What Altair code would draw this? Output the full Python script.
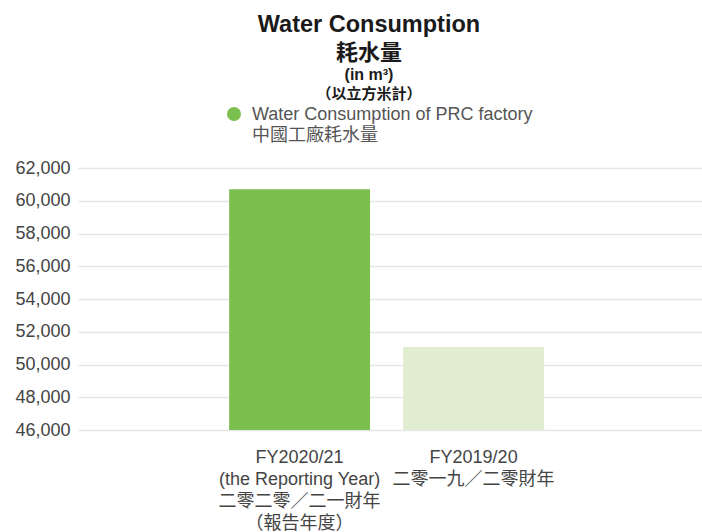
import altair as alt
import pandas as pd

# ---- data ----
categories = [
    "FY2020/21|(the Reporting Year)|二零二零／二一財年|（報告年度）",
    "FY2019/20|二零一九／二零財年",
]
values = [60700, 51070]
bar_colors = ["#7BBF4F", "#E0EDD1"]
y_ticks = [46000, 48000, 50000, 52000, 54000, 56000, 58000, 60000, 62000]
title_lines = ["Water Consumption", "耗水量", "(in m³)", "（以立方米計）"]
legend_lines = ["Water Consumption of PRC factory", "中國工廠耗水量"]

df = pd.DataFrame({"period": categories, "value": values})

W, H = 624, 262
FONT = "Liberation Sans, Noto Sans CJK TC"

x = alt.X(
    "period:N",
    sort=categories,
    scale=alt.Scale(paddingInner=0.19, paddingOuter=0.888, align=0.489),
    axis=alt.Axis(
        title=None,
        labelExpr="split(datum.label, '|')",
        labelAngle=0,
        labelFont=FONT,
        labelFontSize=18,
        labelColor="#444444",
        labelLineHeight=22,
        labelPadding=18,
        ticks=False,
        domain=False,
        grid=False,
    ),
)
y = alt.Y(
    "value:Q",
    scale=alt.Scale(domain=[y_ticks[0], y_ticks[-1]], zero=False, nice=False),
    axis=alt.Axis(
        title=None,
        values=y_ticks,
        labelExpr="format(datum.value, ',.0f')",
        labelFont=FONT,
        labelFontSize=18,
        labelColor="#444444",
        labelPadding=8,
        ticks=False,
        domain=False,
        grid=True,
        gridColor="#E6E6E6",
        gridWidth=1.5,
    ),
)

bars = alt.Chart(df).mark_bar().encode(
    x=x,
    y=y,
    y2=alt.datum(y_ticks[0]),
    color=alt.Color(
        "period:N", scale=alt.Scale(domain=categories, range=bar_colors), legend=None
    ),
)


def text_layer(s, xpos, ypos, size, bold, color, align="center"):
    return (
        alt.Chart(pd.DataFrame({"t": [s]}))
        .mark_text(
            font=FONT,
            fontSize=size,
            fontWeight="bold" if bold else "normal",
            color=color,
            align=align,
            baseline="alphabetic",
        )
        .encode(text="t:N", x=alt.value(xpos), y=alt.value(ypos))
    )


TX = 291
layers = [
    bars,
    text_layer(title_lines[0], TX, -136, 23.5, True, "#1a1a1a"),
    text_layer(title_lines[1], TX, -108, 22, True, "#1a1a1a"),
    text_layer(title_lines[2], TX, -88, 16, True, "#1a1a1a"),
    text_layer(title_lines[3], TX, -69, 15, True, "#1a1a1a"),
    text_layer(legend_lines[0], 174, -48, 18, False, "#555555", "left"),
    text_layer(legend_lines[1], 174, -27, 18, False, "#555555", "left"),
    alt.Chart(pd.DataFrame({"k": [legend_lines[0]]}))
    .mark_point(filled=True, shape="circle", size=196, opacity=1)
    .encode(x=alt.value(156), y=alt.value(-54), color=alt.value(bar_colors[0])),
]

chart = (
    alt.layer(*layers)
    .properties(
        width=W,
        height=H,
        autosize=alt.AutoSizeParams(type="none"),
        padding={"left": 78, "top": 168, "right": 0, "bottom": 102},
        background="white",
    )
    .configure_view(stroke=None)
)

chart.save("out.html", embed_options={"renderer": "svg", "actions": False})
